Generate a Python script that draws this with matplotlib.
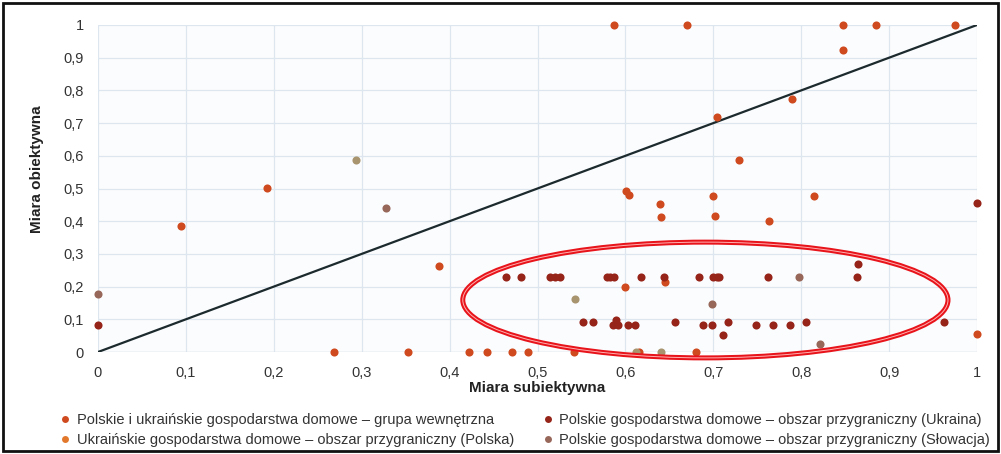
import matplotlib
matplotlib.use("Agg")
import matplotlib.pyplot as plt
from matplotlib.patches import Ellipse, Rectangle
from matplotlib.lines import Line2D
from matplotlib.ticker import FuncFormatter

plt.rcParams['font.family'] = ['Liberation Sans', 'DejaVu Sans']

# ----------------------------
# data
# ----------------------------
# Polskie i ukrainskie gospodarstwa domowe - grupa wewnetrzna
inner_x = [0.587, 0.670, 0.848, 0.885, 0.975, 0.847, 0.790, 0.704, 0.729, 0.601, 0.604,
           0.700, 0.814, 0.192, 0.094, 0.388, 0.639, 0.640, 0.702, 0.763, 0.645, 0.600,
           0.269, 0.353, 0.422, 0.442, 0.471, 0.489, 0.541, 0.615, 0.680, 1.0]
inner_y = [1.0, 1.0, 1.0, 1.0, 1.0, 0.925, 0.773, 0.72, 0.587, 0.492, 0.48,
           0.478, 0.478, 0.502, 0.385, 0.262, 0.453, 0.412, 0.415, 0.402, 0.215, 0.20,
           0.0, 0.0, 0.0, 0.0, 0.0, 0.0, 0.0, 0.0, 0.0, 0.056]

# Ukrainskie gospodarstwa domowe - obszar przygraniczny (Polska)
uapl_x = []
uapl_y = []

# Polskie gospodarstwa domowe - obszar przygraniczny (Ukraina)
ukr_x = [1.0, 0.0, 0.464, 0.481, 0.514, 0.520, 0.526, 0.579, 0.583, 0.587, 0.618, 0.644,
         0.684, 0.700, 0.704, 0.707, 0.762, 0.863, 0.865,
         0.552, 0.563, 0.589, 0.586, 0.592, 0.603, 0.611, 0.656, 0.688, 0.699, 0.717,
         0.711, 0.749, 0.768, 0.787, 0.806, 0.962]
ukr_y = [0.455, 0.083, 0.228, 0.228, 0.228, 0.228, 0.228, 0.228, 0.228, 0.228, 0.228, 0.228,
         0.228, 0.228, 0.228, 0.228, 0.228, 0.228, 0.269,
         0.093, 0.093, 0.098, 0.083, 0.083, 0.083, 0.083, 0.093, 0.083, 0.083, 0.093,
         0.052, 0.083, 0.083, 0.083, 0.093, 0.093]

# Polskie gospodarstwa domowe - obszar przygraniczny (Slowacja)
svk_x = [0.0, 0.328, 0.797, 0.699, 0.821]
svk_y = [0.176, 0.439, 0.228, 0.146, 0.024]

# khaki points (not listed in legend)
khaki_x = [0.293, 0.543, 0.612, 0.640]
khaki_y = [0.587, 0.162, 0.0, 0.0]

labels = [
    "Polskie i ukraińskie gospodarstwa domowe – grupa wewnętrzna",
    "Ukraińskie gospodarstwa domowe – obszar przygraniczny (Polska)",
    "Polskie gospodarstwa domowe – obszar przygraniczny (Ukraina)",
    "Polskie gospodarstwa domowe – obszar przygraniczny (Słowacja)",
]
colors = ["#cf4a1e", "#e2782c", "#962418", "#97675a"]
khaki_color = "#a8946f"

ticks = [0, 0.1, 0.2, 0.3, 0.4, 0.5, 0.6, 0.7, 0.8, 0.9, 1]

# ----------------------------
# figure
# ----------------------------
fig = plt.figure(figsize=(10.01, 4.54), dpi=100)
fig.patch.set_facecolor("white")
ax = fig.add_axes([98/1001, 1 - 352/454, 879/1001, 327/454])
ax.set_facecolor("#fbfcfe")

ax.set_xlim(0, 1)
ax.set_ylim(0, 1)
ax.set_xticks(ticks)
ax.set_yticks(ticks)
fmt = FuncFormatter(lambda v, p: ("%g" % v).replace(".", ","))
ax.xaxis.set_major_formatter(fmt)
ax.yaxis.set_major_formatter(fmt)
ax.tick_params(length=0, labelsize=10.5, colors="#333333", pad=10)
ax.grid(True, color="#dde6ee", linewidth=0.9)
ax.set_axisbelow(True)
for s in ax.spines.values():
    s.set_visible(False)
ax.axhline(0, color="#d6dbe0", lw=1, zorder=1)

ax.plot([0, 1], [0, 1], color="#1c2a2e", lw=1.6, zorder=2)

ms = 34
ax.scatter(inner_x, inner_y, s=ms, color=colors[0], zorder=3, clip_on=False, linewidths=0)
ax.scatter(uapl_x, uapl_y, s=ms, color=colors[1], zorder=3, clip_on=False, linewidths=0)
ax.scatter(ukr_x, ukr_y, s=ms, color=colors[2], zorder=3, clip_on=False, linewidths=0)
ax.scatter(svk_x, svk_y, s=ms, color=colors[3], zorder=3, clip_on=False, linewidths=0)
ax.scatter(khaki_x, khaki_y, s=ms, color=khaki_color, zorder=3, clip_on=False, linewidths=0)

# red highlight ellipse
ell = Ellipse((0.691, 0.159), 0.552, 0.354, fill=False, edgecolor="#e8141b",
              lw=3.6, zorder=4, clip_on=False)
ax.add_patch(ell)
ell2 = Ellipse((0.691, 0.159), 0.552, 0.354, fill=False, edgecolor="#ffb0b0",
               lw=0.7, zorder=4, clip_on=False)
ax.add_patch(ell2)

ax.set_xlabel("Miara subiektywna", fontsize=11, fontweight="bold", color="#222222")
ax.xaxis.set_label_coords(0.5, -0.088)
ax.set_ylabel("Miara obiektywna", fontsize=11, fontweight="bold", color="#222222")
ax.yaxis.set_label_coords(-0.062, 0.56)

handles = [Line2D([], [], marker="o", linestyle="", markersize=5,
                  markerfacecolor=c, markeredgewidth=0) for c in colors]
leg = fig.legend([handles[0], handles[1], handles[2], handles[3]],
                 [labels[0], labels[1], labels[2], labels[3]],
                 loc="upper left", bbox_to_anchor=(0.058, 0.091), ncol=2,
                 frameon=False, fontsize=10.5, handletextpad=0.3, columnspacing=1.8,
                 labelspacing=0.45, handlelength=1.0, borderaxespad=0, borderpad=0)
for t in leg.get_texts():
    t.set_color("#333333")

# outer frame
fig.patches.append(Rectangle((3/1001, 3/454), 995/1001, 448/454, transform=fig.transFigure,
                             fill=False, edgecolor="#111111", lw=2))

fig.savefig("out.png", dpi=100)
